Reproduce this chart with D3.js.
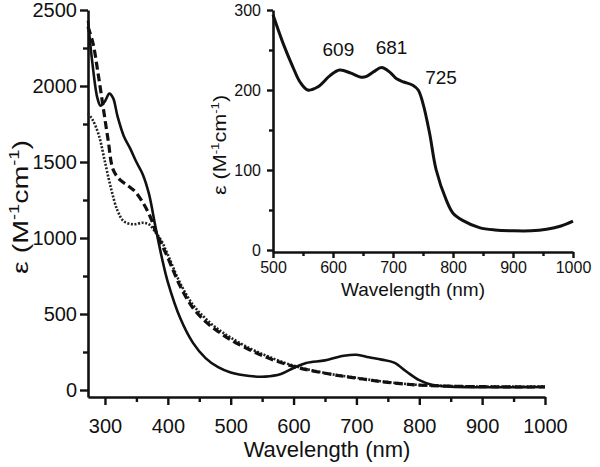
<!DOCTYPE html>
<html><head><meta charset="utf-8">
<script src="https://cdn.jsdelivr.net/npm/d3@7"></script>
<style>body{margin:0;background:#fff}svg{display:block}text{font-family:"Liberation Sans",Arial,sans-serif;fill:#111}</style>
</head><body>
<svg id="c" width="600" height="467"></svg>
<script>
// ---- data ----
const solidWl  = [273,280,288,293,300,307,313,320,330,340,350,360,370,380,390,400,420,440,460,480,500,530,555,580,600,620,650,680,700,720,740,760,780,800,820,850,900,950,1000];
const solidEps = [2430,2150,1920,1870,1900,1950,1920,1800,1670,1590,1500,1420,1290,1080,880,710,470,310,210,150,115,92,88,105,145,178,195,225,232,215,200,180,120,65,35,22,18,18,20];
const dashedWl  = [273,281,289,297,305,313,324,335,348,361,372,382,390,400,420,440,460,480,500,530,560,600,650,700,750,800,850,900,950,1000];
const dashedEps = [2390,2280,2083,1864,1645,1450,1382,1349,1305,1228,1140,1031,960,870,680,540,450,385,330,265,210,155,110,78,50,32,25,22,20,20];
const dottedWl  = [273,280,290,300,310,320,330,345,360,370,380,390,400,420,440,460,480,500,530,560,600,650,700,750,800,850,900,950,1000];
const dottedEps = [1820,1780,1680,1500,1320,1180,1110,1090,1100,1090,1040,980,890,700,560,470,400,345,275,220,160,112,80,52,33,26,23,22,22];
const insetWl  = [500,517,533,545,558,575,595,611,630,647,656,668,681,695,706,718,733,742,750,761,772,789,800,816,844,870,900,930,956,980,1000];
const insetEps = [294,258,229,210,200,204,218,225,221,216,217,223,228,222,214,210,206,200,183,146,100,62,46,37,28,25,24,24,26,30,36];
const mainXTicks = [300,400,500,600,700,800,900,1000];
const mainXMinor = [350,450,550,650,750,850,950];
const mainYTicks = [0,500,1000,1500,2000,2500];
const mainYMinor = [250,750,1250,1750,2250];
const inXTicks = [500,600,700,800,900,1000];
const inXMinor = [550,650,750,850,950];
const inYTicks = [0,100,200,300];
const inYMinor = [50,150,250];
const peakLabels = ["609","681","725"];
const peakWl = [609,681,725];
const peakEps = [240,244,207];

const svg = d3.select("#c");

function axes(g, x, y, xAxisY, yAxisX, o) {
  const gx = g.append("g").attr("transform", `translate(0,${xAxisY})`);
  gx.call(d3.axisBottom(x).tickValues(o.xt).tickSize(o.tick).tickSizeOuter(0).tickPadding(o.xpad).tickFormat(d3.format("d")));
  gx.append("g").call(d3.axisBottom(x).tickValues(o.xm).tickSize(o.mtick).tickFormat("")).select(".domain").remove();
  const gy = g.append("g").attr("transform", `translate(${yAxisX},0)`);
  gy.call(d3.axisLeft(y).tickValues(o.yt).tickSize(o.tick).tickSizeOuter(0).tickPadding(o.ypad).tickFormat(d3.format("d")));
  gy.append("g").call(d3.axisLeft(y).tickValues(o.ym).tickSize(o.mtick).tickFormat("")).select(".domain").remove();
  g.selectAll(".domain").attr("stroke","#111").attr("stroke-width",2.6);
  g.selectAll(".tick line").attr("stroke","#111").attr("stroke-width",2.4);
  g.selectAll(".tick text").attr("font-size",o.fs).attr("fill","#111").style("font-family","'Liberation Sans',Arial,sans-serif");
}

function yTitle(g, tx, ty, fs, sfs, sx) {
  const t = g.append("text").attr("transform",`translate(${tx},${ty}) rotate(-90) scale(${sx},1)`).attr("text-anchor","middle").attr("font-size",fs);
  const up = Math.round(fs*0.4);
  t.append("tspan").text("ε (M");
  t.append("tspan").attr("font-size",sfs).attr("dy",-up).text("-1");
  t.append("tspan").attr("dy",up).text("cm");
  t.append("tspan").attr("font-size",sfs).attr("dy",-up).text("-1");
  t.append("tspan").attr("dy",up).text(")");
}

// ---- main chart ----
const xM = d3.scaleLinear().domain([273,1000]).range([88,545]);
const yM = d3.scaleLinear().domain([-46,2500]).range([397,10]);
const gM = svg.append("g");
axes(gM, xM, yM, 397, 88, {xt:mainXTicks,xm:mainXMinor,yt:mainYTicks,ym:mainYMinor,tick:8,mtick:5,xpad:14,ypad:3,fs:20});

const lineM = (wl, ep) => d3.line().x((d,i)=>xM(wl[i])).y((d,i)=>yM(ep[i])).curve(d3.curveCatmullRom.alpha(0.5))(wl);
gM.append("path").attr("d", lineM(dottedWl, dottedEps)).attr("fill","none").attr("stroke","#222").attr("stroke-width",2.6).attr("stroke-dasharray","2,1.6");
gM.append("path").attr("d", lineM(dashedWl, dashedEps)).attr("fill","none").attr("stroke","#111").attr("stroke-width",3.2).attr("stroke-dasharray","8,4");
gM.append("path").attr("d", lineM(solidWl, solidEps)).attr("fill","none").attr("stroke","#111").attr("stroke-width",2.6);

gM.append("text").attr("x",327).attr("y",457).attr("text-anchor","middle").attr("font-size",22).text("Wavelength (nm)");
yTitle(gM, 28, 207, 22, 14, 1.3);

// ---- inset ----
const xI = d3.scaleLinear().domain([500,1000]).range([273,573]);
const yI = d3.scaleLinear().domain([-2.5,300]).range([252,10]);
const gI = svg.append("g");
axes(gI, xI, yI, 252, 273, {xt:inXTicks,xm:inXMinor,yt:inYTicks,ym:inYMinor,tick:6,mtick:4,xpad:4,ypad:6,fs:16});
gI.append("path").attr("d", d3.line().x((d,i)=>xI(insetWl[i])).y((d,i)=>yI(insetEps[i])).curve(d3.curveCatmullRom.alpha(0.5))(insetWl))
  .attr("fill","none").attr("stroke","#111").attr("stroke-width",3);
gI.append("text").attr("x",413).attr("y",296).attr("text-anchor","middle").attr("font-size",19).text("Wavelength (nm)");
yTitle(gI, 226, 145, 18, 11, 1.2);
const labelDx = [0, 10, 33], labelDy = [-2, -1, 0];
gI.selectAll(".peak").data(peakLabels).enter().append("text").attr("class","peak")
  .attr("x",(d,i)=>xI(peakWl[i])+labelDx[i]).attr("y",(d,i)=>yI(peakEps[i])+labelDy[i]).attr("text-anchor","middle").attr("font-size",19).text(d=>d);
</script>
</body></html>
